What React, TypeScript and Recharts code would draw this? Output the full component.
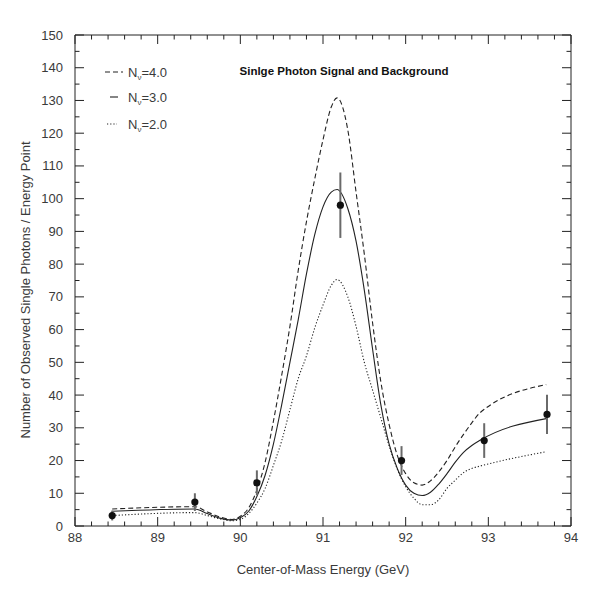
import React from 'react'
import { ComposedChart, Line, Scatter, ErrorBar, XAxis, YAxis } from 'recharts'

const energyGrid = [
  88.45, 89.45, 89.6, 89.75, 89.9, 90.0, 90.1, 90.2, 90.3, 90.4, 90.5, 90.6, 90.7, 90.8, 90.9, 91.0,
  91.1, 91.17, 91.3, 91.4, 91.5, 91.6, 91.7, 91.8, 91.9, 92.0, 92.1, 92.2, 92.3, 92.4, 92.5, 92.6,
  92.7, 92.8, 92.9, 93.7,
]

// expected single photons, N_nu = 4.0 (dashed)
const signalN4 = [
  5.2, 5.9, 4.3, 2.8, 2.0, 3, 5.5, 11, 19.5, 32, 46, 61, 78, 93, 106, 118,
  128, 130.8, 121, 102, 83, 62, 44, 31, 21.5, 16, 13.2, 12.5, 13.8, 16.5, 20, 24.2,
  28, 31.5, 34.6, 43.2,
]

// N_nu = 3.0 (solid)
const signalN3 = [
  4.5, 5.2, 3.8, 2.4, 1.8, 2.5, 4.5, 9, 15.5, 25, 37, 50, 63, 77, 89, 97.5,
  102, 102.8, 97, 87, 72, 54, 37, 25, 17.5, 12.5, 10, 9.3, 10.3, 12.8, 16, 19.5,
  22.5, 24.6, 26.2, 32.8,
]

// N_nu = 2.0 (dotted)
const signalN2 = [
  3.2, 4.1, 3.2, 2.2, 1.6, 2.0, 3.8, 7, 11.5, 18.5, 26, 35.5, 45, 52, 60.5, 67.5,
  73.5, 75.3, 70, 61, 50, 41.5, 33, 24.5, 17.3, 12, 8.5, 6.5, 6.5, 8, 11.5, 14,
  16.3, 17.6, 18.3, 22.7,
]

// observed points
const obsEnergy = [88.45, 89.45, 90.2, 91.21, 91.95, 92.95, 93.71]
const obsCount = [3.2, 7.3, 13.2, 98, 20, 26.1, 34.1]
const obsError = [1.5, 2.7, 3.8, 10, 4.4, 5.3, 6]

const xTicks = [
  88, 88.2, 88.4, 88.6, 88.8, 89, 89.2, 89.4, 89.6, 89.8, 90, 90.2, 90.4, 90.6, 90.8, 91,
  91.2, 91.4, 91.6, 91.8, 92, 92.2, 92.4, 92.6, 92.8, 93, 93.2, 93.4, 93.6, 93.8, 94,
]
const yTicks = [
  0, 5, 10, 15, 20, 25, 30, 35, 40, 45, 50, 55, 60, 65, 70, 75, 80, 85, 90, 95, 100, 105, 110,
  115, 120, 125, 130, 135, 140, 145, 150,
]

const FONT = '"Liberation Sans", Arial, Helvetica, sans-serif'
const INK = '#222'
const TEXT = '#3a3a3a'

const toPoints = (ys: number[]) => energyGrid.map((x, i) => ({ x, y: ys[i] }))
const curveN4 = toPoints(signalN4)
const curveN3 = toPoints(signalN3)
const curveN2 = toPoints(signalN2)
const observed = obsEnergy.map((x, i) => ({ x, y: obsCount[i], err: obsError[i] }))

const tickLen = (v: number, step: number) => (Math.abs(v / step - Math.round(v / step)) < 1e-6 ? 9 : 4.5)

function BottomTick({ x, y, payload }: any) {
  const len = tickLen(payload.value, 1)
  return (
    <g>
      <line x1={x} x2={x} y1={y} y2={y - len} stroke={INK} />
      {len > 5 && (
        <text x={x} y={y + 16} textAnchor="middle" fontSize={13} fill={TEXT} fontFamily={FONT}>
          {payload.value}
        </text>
      )}
    </g>
  )
}

function TopTick({ x, y, payload }: any) {
  const len = tickLen(payload.value, 1)
  return <line x1={x} x2={x} y1={y} y2={y + len} stroke={INK} />
}

function LeftTick({ x, y, payload }: any) {
  const len = tickLen(payload.value, 10)
  return (
    <g>
      <line x1={x} x2={x + len} y1={y} y2={y} stroke={INK} />
      {len > 5 && (
        <text x={x - 12} y={y + 4.5} textAnchor="end" fontSize={13} fill={TEXT} fontFamily={FONT}>
          {payload.value}
        </text>
      )}
    </g>
  )
}

function RightTick({ x, y, payload }: any) {
  const len = tickLen(payload.value, 10)
  return <line x1={x} x2={x - len} y1={y} y2={y} stroke={INK} />
}

const XLabel = (props: any) => {
  const vb = props.viewBox || { x: 67, y: 518, width: 496 }
  return (
    <text x={vb.x + vb.width / 2} y={vb.y + 48} textAnchor="middle" fontSize={13} fill={TEXT} fontFamily={FONT}>
      Center-of-Mass Energy (GeV)
    </text>
  )
}

const YLabel = () => (
  <text
    x={17}
    y={282}
    transform="rotate(-90 17 282)"
    textAnchor="middle"
    dominantBaseline="central"
    fontSize={13}
    fill={TEXT}
    fontFamily={FONT}
  >
    Number of Observed Single Photons / Energy Point
  </text>
)

const Dot = (p: any) => <circle cx={p.cx} cy={p.cy} r={3.6} fill="#111" />

const legendRows = [
  { label: '4.0', dash: '5 3', x1: 97, x2: 115, y: 64 },
  { label: '3.0', dash: undefined, x1: 102, x2: 110, y: 89 },
  { label: '2.0', dash: '1.2 2', x1: 99, x2: 109, y: 116 },
]

export default function App() {
  return (
    <div style={{ position: 'relative', width: 584, height: 576 }}>
      <ComposedChart width={584} height={576} margin={{ top: 26, right: 20, left: 0, bottom: 0 }}>
        <XAxis
          dataKey="x"
          type="number"
          domain={[88, 94]}
          ticks={xTicks}
          interval={0}
          height={58}
          tickSize={0}
          tickMargin={0}
          tickLine={false}
          tick={<BottomTick />}
          axisLine={{ stroke: INK }}
          label={XLabel}
        />
        <XAxis
          xAxisId="top"
          orientation="top"
          dataKey="x"
          type="number"
          domain={[88, 94]}
          ticks={xTicks}
          interval={0}
          height={1}
          tickSize={0}
          tickMargin={0}
          tickLine={false}
          tick={<TopTick />}
          axisLine={{ stroke: INK }}
        />
        <YAxis
          type="number"
          domain={[0, 150]}
          ticks={yTicks}
          interval={0}
          width={67}
          tickSize={0}
          tickMargin={0}
          tickLine={false}
          tick={<LeftTick />}
          axisLine={{ stroke: INK }}
          label={YLabel}
        />
        <YAxis
          yAxisId="right"
          orientation="right"
          type="number"
          domain={[0, 150]}
          ticks={yTicks}
          interval={0}
          width={1}
          tickSize={0}
          tickMargin={0}
          tickLine={false}
          tick={<RightTick />}
          axisLine={{ stroke: INK }}
        />
        <Line data={curveN4} dataKey="y" type="monotone" stroke={INK} strokeWidth={1.1} strokeDasharray="5 3" dot={false} isAnimationActive={false} />
        <Line data={curveN3} dataKey="y" type="monotone" stroke={INK} strokeWidth={1.1} dot={false} isAnimationActive={false} />
        <Line data={curveN2} dataKey="y" type="monotone" stroke={INK} strokeWidth={1.1} strokeDasharray="1.2 2" dot={false} isAnimationActive={false} />
        {/* invisible copy so the frame axes on top/right get drawn */}
        <Line
          data={curveN3}
          dataKey="y"
          xAxisId="top"
          yAxisId="right"
          stroke="none"
          dot={false}
          activeDot={false}
          legendType="none"
          isAnimationActive={false}
        />
        <Scatter data={observed} dataKey="y" shape={Dot} isAnimationActive={false}>
          <ErrorBar dataKey="err" direction="y" width={0} stroke="#6a6a6a" strokeWidth={2} isAnimationActive={false} />
        </Scatter>
      </ComposedChart>

      <svg width={584} height={576} style={{ position: 'absolute', left: 0, top: 0, pointerEvents: 'none' }}>
        {legendRows.map((r) => (
          <g key={r.label}>
            <line x1={r.x1} x2={r.x2} y1={r.y} y2={r.y} stroke={INK} strokeWidth={1.1} strokeDasharray={r.dash} />
            <text x={120} y={r.y + 4.5} fontSize={13} fill={TEXT} fontFamily={FONT}>
              N
              <tspan fontSize={8} dy={3}>ν</tspan>
              <tspan dy={-3}>={r.label}</tspan>
            </text>
          </g>
        ))}
        <text x={336} y={67} textAnchor="middle" fontSize={11.5} fontWeight="bold" fill="#111" fontFamily={FONT}>
          Sinlge Photon Signal and Background
        </text>
      </svg>
    </div>
  )
}
